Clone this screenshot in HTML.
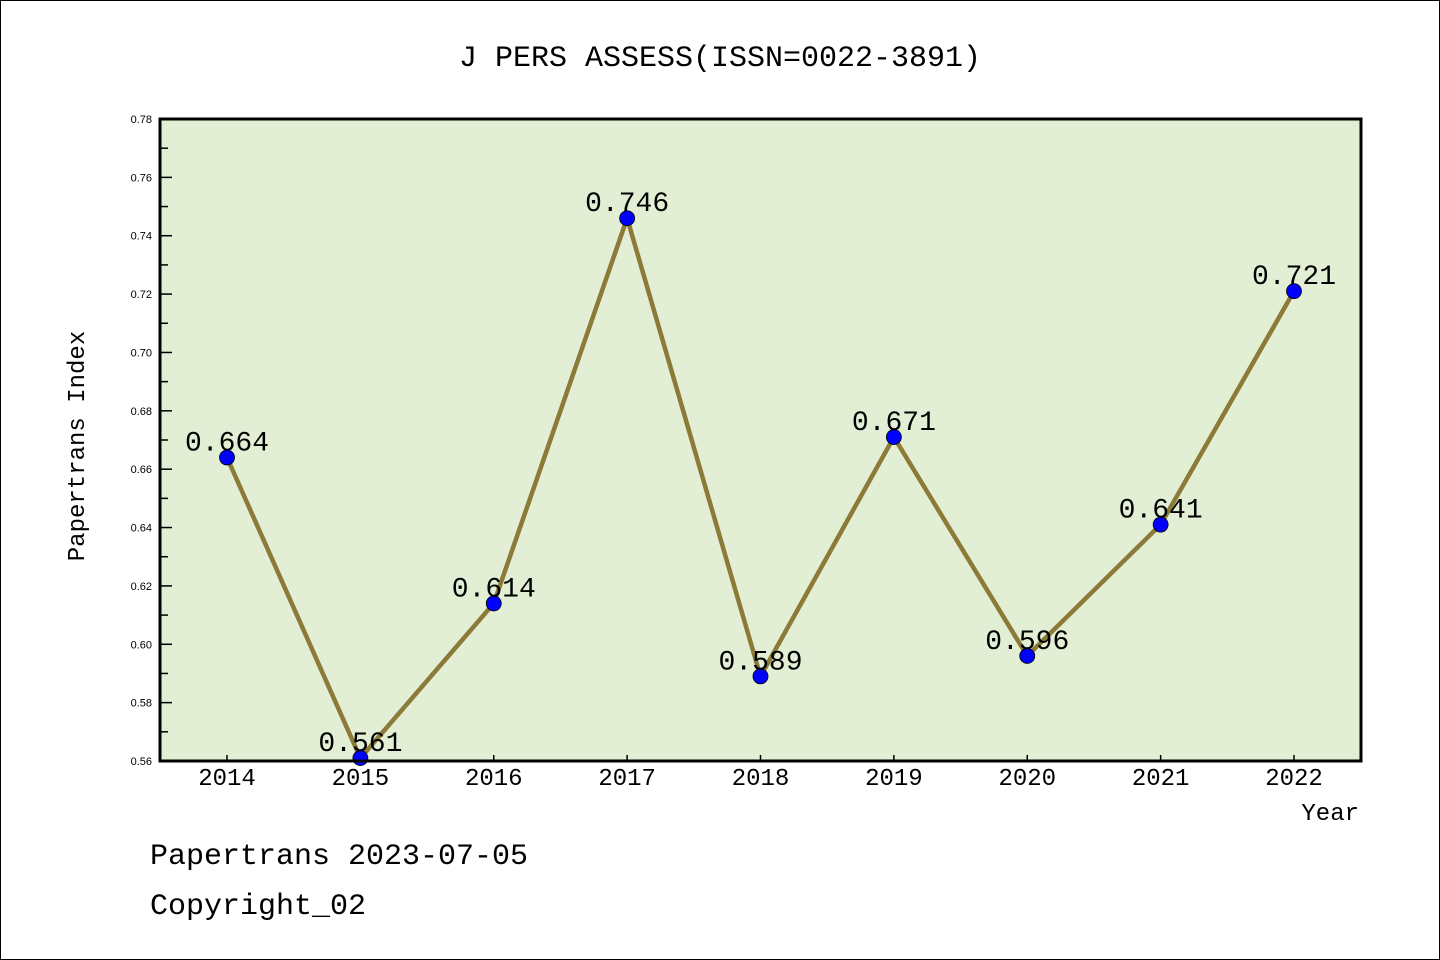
<!DOCTYPE html>
<html><head><meta charset="utf-8"><style>
body{margin:0;background:#fff}
svg{display:block}
text{font-family:"Liberation Mono",monospace;fill:#000}
text.sans{font-family:"Liberation Sans",sans-serif}
</style></head><body>
<svg id="chart" width="1440" height="960" xmlns="http://www.w3.org/2000/svg">
<rect x="0.5" y="0.5" width="1439" height="959" fill="#fff" stroke="#000"/>
<text x="720" y="66" font-size="30" text-anchor="middle">J PERS ASSESS(ISSN=0022-3891)</text>
<rect x="160" y="119" width="1201" height="642" fill="#e2efd4"/>
<g id="ticks"></g>
<g id="series"></g>
<rect x="160" y="119" width="1201" height="642" fill="none" stroke="#000" stroke-width="3"/>
<text x="84" y="446" font-size="24" text-anchor="middle" transform="rotate(-90 84 446)">Papertrans Index</text>
<text x="1359" y="820" font-size="24" text-anchor="end">Year</text>
<text x="150" y="864" font-size="30">Papertrans 2023-07-05</text>
<text x="150" y="914" font-size="30">Copyright_02</text>
</svg>
<script>
const years = ['2014','2015','2016','2017','2018','2019','2020','2021','2022'];
const values = [0.664,0.561,0.614,0.746,0.589,0.671,0.596,0.641,0.721];
const labels = ['0.664','0.561','0.614','0.746','0.589','0.671','0.596','0.641','0.721'];
const yTicks = [0.56,0.58,0.60,0.62,0.64,0.66,0.68,0.70,0.72,0.74,0.76,0.78];
const NS='http://www.w3.org/2000/svg';
const yMin=0.56,yMax=0.78,plotTop=119,plotBot=761;
function ys(v){return plotBot-(v-yMin)/(yMax-yMin)*(plotBot-plotTop);}
function xs(i){return 227+i*(1294-227)/(years.length-1);}
function mk(t,a,p){const e=document.createElementNS(NS,t);for(const k in a)e.setAttribute(k,a[k]);p.appendChild(e);return e;}
const tg=document.getElementById('ticks');
yTicks.forEach((v,i)=>{
  const l=mk('line',{x1:160,x2:172,y1:ys(v),y2:ys(v),stroke:'#000','stroke-width':1.5},tg);
  
  
  const t=mk('text',{x:152,y:ys(v)+4,'font-size':11,'text-anchor':'end','class':'sans'},tg);
  t.textContent=v.toFixed(2);
  
  
  if(i<yTicks.length-1){
    const m=mk('line',{x1:160,x2:168,y1:ys(v+0.01),y2:ys(v+0.01),stroke:'#000','stroke-width':1.5},tg);
    
    
  }
});
years.forEach((yr,i)=>{
  const l=mk('line',{x1:xs(i),x2:xs(i),y1:plotBot,y2:plotBot-6,stroke:'#000','stroke-width':1.5},tg);
  
  
  const t=mk('text',{x:xs(i),y:785,'font-size':24,'text-anchor':'middle'},tg);
  t.textContent=yr;
  
  
});
const sg=document.getElementById('series');
const pl=mk('polyline',{points:values.map((v,i)=>xs(i)+','+ys(v)).join(' '),fill:'none',stroke:'#8b7a38','stroke-width':4.5},sg);


values.forEach((v,i)=>{
  const c=mk('circle',{cx:xs(i),cy:ys(v),r:7.5,fill:'#0000ff',stroke:'#000','stroke-width':0.8},sg);
  
  
  const t=mk('text',{x:xs(i),y:ys(v)-7,'font-size':28,'text-anchor':'middle'},sg);
  t.textContent=labels[i];
  
  
});
</script>
</body></html>
